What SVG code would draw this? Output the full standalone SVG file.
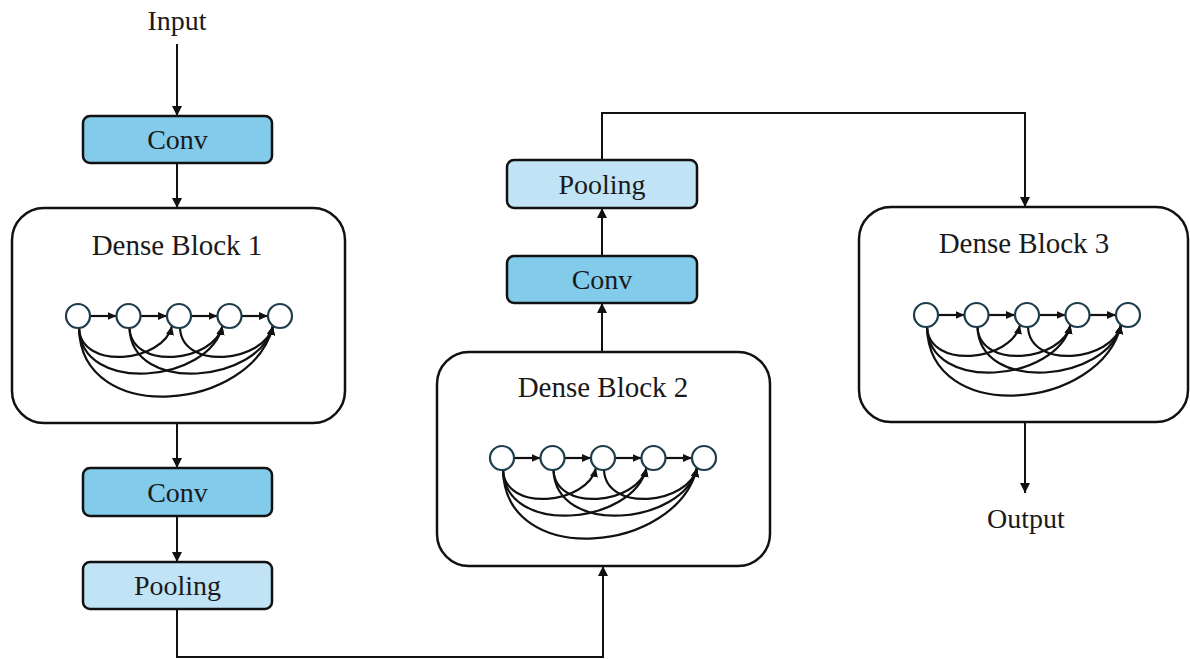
<svg xmlns="http://www.w3.org/2000/svg" xmlns:xlink="http://www.w3.org/1999/xlink" width="1190" height="659" viewBox="0 0 1190 659">
<style>
.txt{font-family:"Liberation Serif","Times New Roman",serif;fill:#1a1a1a;text-anchor:middle}
.lbl{font-size:28px}
.ttl{font-size:29px}
.conv{fill:#83CBEB;stroke:#111;stroke-width:2.5}
.pool{fill:#C0E4F5;stroke:#111;stroke-width:2.5}
.blk{fill:#fff;stroke:#111;stroke-width:2.5}
.wire{fill:none;stroke:#111;stroke-width:2}
.gl{fill:none;stroke:#111;stroke-width:2.2}
.nd{fill:#fff;stroke:#1D3D4C;stroke-width:2.2}
</style>
<defs>
<marker id="ah" markerUnits="userSpaceOnUse" markerWidth="10" markerHeight="10" refX="10" refY="5" orient="auto">
<path d="M0,0 L10,5 L0,10 z" fill="#111"/>
</marker>
<marker id="sa" markerUnits="userSpaceOnUse" markerWidth="9" markerHeight="9" refX="9" refY="4.5" orient="auto">
<path d="M0,0.5 L9,4.5 L0,8.5 z" fill="#111"/>
</marker>
<g id="dense">
<path class="gl" marker-end="url(#sa)" d="M1,12 C3,55 85.4,46.5 94,10"/>
<path class="gl" marker-end="url(#sa)" d="M51.5,12 C53.5,55 135.9,46.5 144.5,10"/>
<path class="gl" marker-end="url(#sa)" d="M102,12 C104,55 186.4,46.5 195,10"/>
<path class="gl" marker-end="url(#sa)" d="M1,12 C3,79 131.1,67 144.5,10"/>
<path class="gl" marker-end="url(#sa)" d="M51.5,12 C53.5,79 181.6,67 195,10"/>
<path class="gl" marker-end="url(#sa)" d="M1,12 C3,112 175,95 195,10"/>
<path class="gl" marker-end="url(#sa)" d="M12,0 H38.5"/>
<path class="gl" marker-end="url(#sa)" d="M62.5,0 H89"/>
<path class="gl" marker-end="url(#sa)" d="M113,0 H139.5"/>
<path class="gl" marker-end="url(#sa)" d="M163.5,0 H190"/>
<circle class="nd" cx="0" cy="0" r="12"/>
<circle class="nd" cx="50.5" cy="0" r="12"/>
<circle class="nd" cx="101" cy="0" r="12"/>
<circle class="nd" cx="151.5" cy="0" r="12"/>
<circle class="nd" cx="202" cy="0" r="12"/>
</g>
</defs>

<g id="connectors">
<path class="wire" marker-end="url(#ah)" d="M177,44 V116"/>
<path class="wire" marker-end="url(#ah)" d="M177,163 V208"/>
<path class="wire" marker-end="url(#ah)" d="M177,423 V468"/>
<path class="wire" marker-end="url(#ah)" d="M177,516 V562"/>
<path class="wire" marker-end="url(#ah)" d="M177,609 V657 H603 V566"/>
<path class="wire" marker-end="url(#ah)" d="M602,352 V303"/>
<path class="wire" marker-end="url(#ah)" d="M602,256 V208"/>
<path class="wire" marker-end="url(#ah)" d="M602,160 V113 H1025 V207"/>
<path class="wire" marker-end="url(#ah)" d="M1025,422 V493"/>
</g>

<g id="input"><text class="txt lbl" x="177" y="30">Input</text></g>

<g id="conv1">
<rect class="conv" x="83" y="116" width="189" height="47" rx="7"/>
<text class="txt lbl" x="177.5" y="149">Conv</text>
</g>

<g id="dense1">
<rect class="blk" x="12" y="208" width="333" height="215" rx="32"/>
<text class="txt ttl" x="177" y="255">Dense Block 1</text>
<use xlink:href="#dense" x="78" y="316"/>
</g>

<g id="conv2">
<rect class="conv" x="83" y="468" width="189" height="48" rx="7"/>
<text class="txt lbl" x="177.5" y="502">Conv</text>
</g>

<g id="pool1">
<rect class="pool" x="83" y="562" width="189" height="47" rx="7"/>
<text class="txt lbl" x="177.5" y="595">Pooling</text>
</g>

<g id="dense2">
<rect class="blk" x="437" y="352" width="333" height="214" rx="32"/>
<text class="txt ttl" x="603" y="397">Dense Block 2</text>
<use xlink:href="#dense" x="502" y="458"/>
</g>

<g id="conv3">
<rect class="conv" x="507" y="256" width="190" height="47" rx="7"/>
<text class="txt lbl" x="602" y="289">Conv</text>
</g>

<g id="pool2">
<rect class="pool" x="507" y="160" width="190" height="48" rx="7"/>
<text class="txt lbl" x="602" y="194">Pooling</text>
</g>

<g id="dense3">
<rect class="blk" x="859" y="207" width="329" height="215" rx="32"/>
<text class="txt ttl" x="1024" y="253">Dense Block 3</text>
<use xlink:href="#dense" x="926" y="315"/>
</g>

<g id="output"><text class="txt lbl" x="1026" y="528">Output</text></g>
</svg>
